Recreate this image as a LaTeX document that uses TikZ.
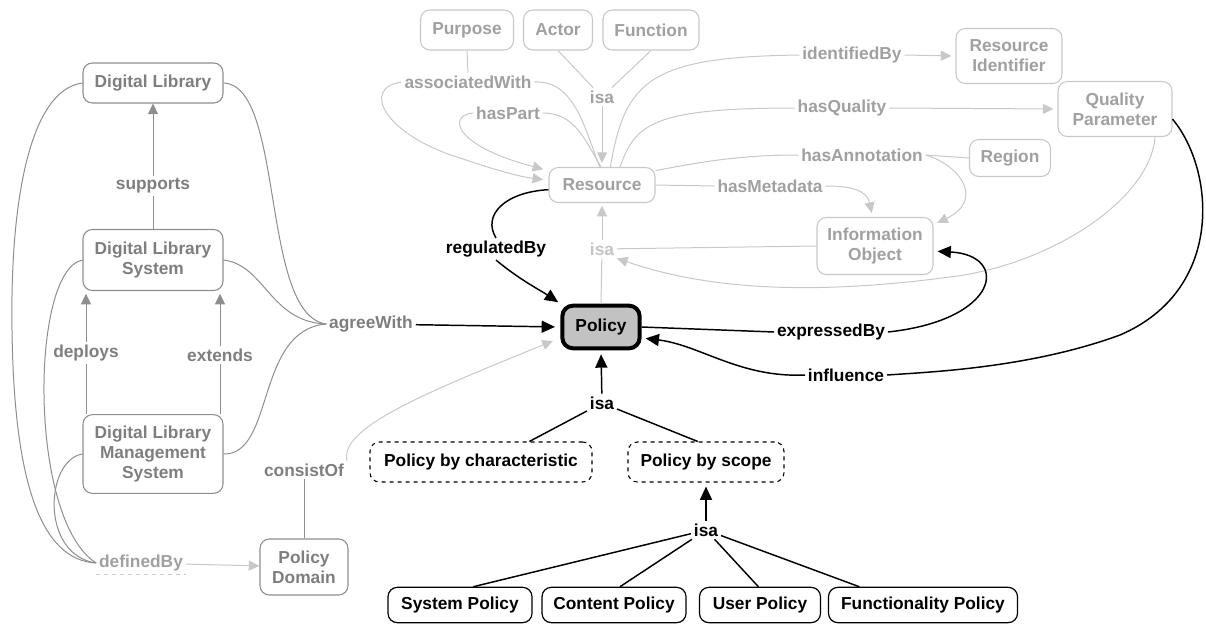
\documentclass[tikz,border=0pt]{standalone}
\usepackage{fontspec}
\setmainfont{Liberation Sans}
\usetikzlibrary{arrows.meta}
\definecolor{ltline}{HTML}{C8C8C8}
\definecolor{lttext}{HTML}{A0A0A0}
\definecolor{vltext}{HTML}{C4C4C4}
\definecolor{dkline}{HTML}{8E8E8E}
\definecolor{dktext}{HTML}{7E7E7E}
\definecolor{polfill}{HTML}{C2C2C2}
\tikzset{
  every node/.style={font=\fontsize{13}{15}\selectfont\bfseries, align=center, inner sep=2pt},
  lbox/.style={draw=dkline, text=dktext, rounded corners=7pt, line width=0.8pt},
  tbox/.style={draw=ltline, text=lttext, rounded corners=7pt, line width=0.8pt},
  bbox/.style={draw=black, text=black, rounded corners=7pt, line width=0.9pt},
  dbox/.style={draw=black, text=black, dashed, rounded corners=7pt, line width=0.8pt},
  dlab/.style={text=dktext},
  tlab/.style={text=lttext},
  blab/.style={text=black},
  dkl/.style={draw=dkline, line width=0.75pt},
  ltl/.style={draw=ltline, line width=0.75pt},
  bkl/.style={draw=black, line width=1.1pt},
  dkarr/.style={dkl, -{Triangle[length=8pt,width=7.5pt]}, color=dkline},
  ltarr/.style={ltl, -{Triangle[length=8pt,width=7.5pt]}, color=ltline},
  bkarr/.style={bkl, -{Triangle[length=10pt,width=9pt]}},
}
\begin{document}
\begin{tikzpicture}[x=0.75pt,y=-0.75pt]
\path[use as bounding box] (0,0) rectangle (1206,625);

% ---------------- left column
\node[lbox, minimum width=105pt, minimum height=30pt] (dl) at (153,83) {Digital Library};
\node[lbox, minimum width=105pt, minimum height=45.75pt] (dls) at (153,260) {Digital Library\\System};
\node[lbox, minimum width=105pt, minimum height=59pt] (dlms) at (153,454) {Digital Library\\Management\\System};
\node[dlab] (supports) at (153,186) {supports};
\node[dlab] (deploys) at (86,353) {deploys};
\node[dlab] (extends) at (220,355) {extends};
\node[dlab] (agree) at (371,324) {agreeWith};
\node[tlab] (defby) at (141,563) {definedBy};
\node[lbox, minimum width=66pt, minimum height=42pt] (pd) at (304,567) {Policy\\Domain};
\node[dlab] (consist) at (304,470) {consistOf};

\draw[dkl] (dls.north) -- (supports.south);
\draw[dkarr] (supports) -- (dl.south);
\draw[dkl] (dlms.north -| deploys) -- (deploys);
\draw[dkarr, shorten >=2pt] (deploys) -- (dls.south -| deploys);
\draw[dkl] (dlms.north -| extends) -- (extends);
\draw[dkarr, shorten >=2pt] (extends) -- (dls.south -| extends);

\draw[dkl] (dl.east) .. controls (285,85) and (260,315) .. (agree.west);
\draw[dkl] (dls.east) .. controls (265,265) and (270,322) .. (agree.west);
\draw[dkl] (dlms.east) .. controls (275,455) and (255,330) .. (agree.west);

\draw[dkl] (dl.west) .. controls (30,90) and (10,200) .. (12,330) .. controls (14,480) and (40,560) .. (defby.west);
\draw[dkl] (dls.west) .. controls (30,270) and (28,520) .. (defby.west);
\draw[dkl] (dlms.west) .. controls (45,460) and (40,555) .. (defby.west);
\draw[ltline, dashed, line width=0.75pt] (defby.south west) -- (defby.south east);
\draw[ltarr] (defby) -- (pd);

\draw[dkl] (pd.north) -- (consist.south);

% ---------------- policy and specialisations
\node[draw=black, fill=polfill, line width=3pt, rounded corners=8pt, minimum width=58pt, minimum height=32pt] (policy) at (601,327) {Policy};
\node[dbox, minimum width=166.5pt, minimum height=30pt] (pbc) at (481,462) {Policy by characteristic};
\node[dbox, minimum width=117pt, minimum height=30pt] (pbs) at (706,462) {Policy by scope};
\node[blab] (isa3) at (602,403) {isa};
\node[blab] (isa4) at (706,530) {isa};
\node[bbox, minimum width=108pt, minimum height=26.5pt] (sp) at (460,605) {System Policy};
\node[bbox, minimum width=108pt, minimum height=26.5pt] (cp) at (614,605) {Content Policy};
\node[bbox, minimum width=90.75pt, minimum height=26.5pt] (up) at (760,605) {User Policy};
\node[bbox, minimum width=141.75pt, minimum height=26.5pt] (fp) at (923,605) {Functionality Policy};

\draw[bkarr, shorten >=3pt] (isa3) -- (policy.south);
\draw[bkl] (isa3) -- (pbc.23);
\draw[bkl] (isa3) -- (pbs.112);
\draw[bkarr, shorten >=3pt] (isa4) -- (pbs.south);
\draw[bkl] (isa4) -- (sp.54);
\draw[bkl] (isa4) -- (cp.72);
\draw[bkl] (isa4) -- (up.95);
\draw[bkl] (isa4) -- (fp.164);

\draw[bkarr, shorten >=4pt] (agree) -- (policy.west);
\draw[ltarr, shorten >=6pt] (consist.north east) .. controls (340,428) and (420,395) .. (policy.195);

% ---------------- top area
\node[tbox, minimum width=69.75pt, minimum height=30pt] (purpose) at (467,30) {Purpose};
\node[tbox, minimum width=51.75pt, minimum height=30pt] (actor) at (558,30) {Actor};
\node[tbox, minimum width=72pt, minimum height=30pt] (function) at (651,30) {Function};
\node[tbox, minimum width=79.5pt, minimum height=26.25pt] (resource) at (602,185) {Resource};
\node[tbox, minimum width=79.5pt, minimum height=41.25pt] (ri) at (1009,56) {Resource\\Identifier};
\node[tbox, minimum width=85.5pt, minimum height=41.25pt] (qp) at (1115,109) {Quality\\Parameter};
\node[tbox, minimum width=60.75pt, minimum height=27.75pt] (region) at (1010,158) {Region};
\node[tbox, minimum width=87pt, minimum height=42.75pt] (io) at (875,246) {Information\\Object};

\node[tlab] (assoc) at (468,82) {associatedWith};
\node[tlab] (haspart) at (508,113) {hasPart};
\node[tlab] (isa1) at (602,97) {isa};
\node[tlab] (ident) at (852,55) {identifiedBy};
\node[tlab] (hasq) at (842,108) {hasQuality};
\node[tlab] (hasa) at (862,155) {hasAnnotation};
\node[tlab] (hasm) at (770,186) {hasMetadata};
\node[text=vltext] (isa2) at (602,249) {isa};

\draw[ltl] (purpose.south) -- (assoc.north);
\draw[ltl] (assoc.east) .. controls (575,80) and (585,130) .. (resource.97);
\draw[ltarr, shorten >=4pt] (assoc.west) .. controls (360,88) and (385,135) .. (460,158) .. controls (490,168) and (515,176) .. (resource.175);
\draw[ltl] (haspart.east) .. controls (575,113) and (585,140) .. (resource.93);
\draw[ltarr, shorten >=4pt] (haspart.west) .. controls (448,115) and (452,145) .. (resource.165);
\draw[ltl] (actor.south) -- (isa1);
\draw[ltl] (function.south) -- (isa1);
\draw[ltarr, shorten >=3pt] (isa1) -- (resource.north);

\draw[ltl] (resource.65) .. controls (625,80) and (650,57) .. (ident.west);
\draw[ltarr, shorten >=3pt] (ident.east) -- (ri.west);
\draw[ltl] (resource.45) .. controls (635,125) and (650,108) .. (hasq.west);
\draw[ltarr, shorten >=3pt] (hasq.east) -- (qp.west);
\draw[ltl] (resource.15) .. controls (700,162) and (740,155) .. (hasa.west);
\draw[ltl] (hasa.east) -- (region.west);
\draw[ltarr, shorten >=3pt] (hasa.east) .. controls (960,165) and (985,200) .. (io.20);
\draw[ltl] (resource.east) -- (hasm.west);
\draw[ltarr, shorten >=3pt] (hasm.east) .. controls (850,186) and (867,190) .. (io.95);

\draw[ltarr, shorten >=2pt] (isa2) -- (resource.south);
\draw[ltl] (policy.north) -- (isa2);
\draw[ltl] (io.west) -- (isa2);
\draw[ltarr] (qp.-35) .. controls (1150,200) and (1050,265) .. (950,277) .. controls (800,297) and (700,287) .. (isa2.south east);

% ---------------- black relations
\node[blab] (regby) at (496,249) {regulatedBy};
\node[blab] (expby) at (831,332) {expressedBy};
\node[blab] (infl) at (846,375) {influence};

\draw[bkl] (resource.185) .. controls (505,192) and (482,215) .. (regby.north);
\draw[bkarr, shorten >=2pt] (regby.south) .. controls (520,280) and (540,290) .. (policy.north west);
\draw[bkl] (policy.east) -- (expby.west);
\draw[bkarr, shorten >=3pt] (expby.east) .. controls (1000,320) and (1010,255) .. (io.-5);
\draw[bkl] (qp.-10) .. controls (1215,170) and (1225,290) .. (1120,335) .. controls (1030,368) and (930,372) .. (infl.east);
\draw[bkarr, shorten >=3pt] (infl.west) .. controls (740,378) and (700,345) .. (policy.-15);
\end{tikzpicture}
\end{document}
